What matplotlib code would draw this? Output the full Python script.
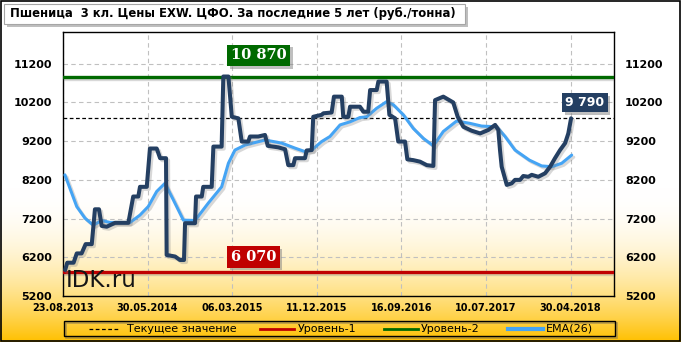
import numpy as np
import matplotlib
matplotlib.use('Agg')
import matplotlib.pyplot as plt
import matplotlib.patheffects as pe
from matplotlib.patches import Rectangle
from matplotlib.lines import Line2D

# x = weeks since 23.08.2013
price_week = [1, 2, 5, 6.5, 8.8, 10.7, 13.6, 15.1, 17, 18.3, 20.7, 24.6, 30.9, 33.2, 35.6,
              36.4, 39.6, 41.1, 44.3, 45.9, 48.7, 49, 53, 55.3, 57.2, 57.7, 62.4, 62.9, 65.6,
              66.3, 70.3, 71.1, 75, 75.8, 78.2, 79.8, 82.9, 84.5, 87.6, 88.4, 92.3, 95.5, 96.8,
              101.8, 105, 106.5, 108.9, 109.7, 114.4, 115.2, 117.6, 118.3, 122.3, 123.1, 127,
              128.1, 131.8, 132.5, 134.9, 135.7, 140.4, 142, 144.3, 145.2, 148.3, 149.1, 153,
              154.3, 157, 158.5, 161.7, 162.8, 165.6, 168.8, 172, 175.1, 175.9, 179.8, 184.5,
              186.6, 189.3, 193.2, 197.2, 201.1, 204.3, 205.8, 206.6, 207.4, 209.8, 212.1,
              213.7, 216.1, 217.6, 220, 221.6, 224.7, 227.9, 230.3, 232.6, 235, 237.4, 238.9,
              240.2]
price = [5870, 6060, 6060, 6300, 6300, 6540, 6540, 7440, 7440, 7010, 6990, 7090, 7090, 7770, 7770,
         8020, 8020, 9010, 9010, 8760, 8760, 6260, 6220, 6130, 6130, 7080, 7080, 7770, 7770,
         8020, 8020, 9060, 9060, 10870, 10870, 9830, 9790, 9190, 9190, 9320, 9320, 9360, 9080,
         9040, 8990, 8580, 8580, 8760, 8760, 8960, 8970, 9830, 9880, 9920, 9940,
         10350, 10350, 9830, 9830, 10090, 10090, 9960, 9960, 10520, 10520, 10740, 10740,
         9880, 9790, 9190, 9190, 8730, 8710, 8670, 8580, 8560, 10260, 10350, 10200,
         9830, 9570, 9470, 9400, 9490, 9620, 9490, 8970, 8540, 8070, 8110,
         8200, 8200, 8300, 8280, 8330, 8280, 8370, 8540, 8760, 8970, 9150, 9400,
         9790]

ema_week = [0.9, 6.5, 10.4, 14.3, 18.3, 22.2, 31.7, 36.4, 40.3, 44.3, 48.2, 52.2, 56.9, 62.4,
            68.7, 75, 78.2, 81.3, 86.1, 95.5, 103.4, 109.7, 114.4, 117.6, 122.3, 126.2, 131,
            135.7, 140.4, 143.6, 148.3, 153, 156.2, 160.9, 165.6, 170.4, 175.1, 179.8, 186.1,
            192.4, 197.9, 205.1, 209, 213.7, 220.5, 226.3, 231.1, 235.8, 240.5]
ema = [8330, 7510, 7210, 7030, 7150, 7100, 7100, 7290, 7510, 7900, 8110, 7680, 7160, 7150,
       7600, 8020, 8630, 8970, 9100, 9230, 9150, 9020, 8930, 8970, 9190, 9320, 9620,
       9700, 9810, 9830, 10050, 10220, 10140, 9880, 9530, 9270, 9080, 9450, 9720,
       9660, 9590, 9570, 9320, 8970, 8710, 8560, 8540, 8630, 8840]

tick_weeks = [0, 40, 80, 120, 160, 200, 240]
tick_labels = ['23.08.2013', '30.05.2014', '06.03.2015', '11.12.2015', '16.09.2016',
               '10.07.2017', '30.04.2018']
yticks = [5200, 6200, 7200, 8200, 9200, 10200, 11200]

current = 9790
level1 = 5820      # where the red line is drawn
level1_text = '6 070'
level2 = 10870

navy = '#243f62'
ema_col = '#45a4f4'
green = '#006a00'
red = '#c00000'

fig = plt.figure(figsize=(6.81, 3.42), dpi=100)

# background gradient white -> gold at the bottom
bg = fig.add_axes([0, 0, 1, 1], zorder=-10)
bg.axis('off')
t = np.linspace(1, 0, 342)
f = np.clip(1 - t / 0.45, 0, 1) ** 2
gold = np.array([255, 192, 0]) / 255
img = (1 - f)[:, None] * np.ones(3) + f[:, None] * gold
img = np.repeat(img[:, None, :], 10, axis=1)
bg.imshow(img, aspect='auto', extent=[0, 1, 0, 1])
bg.set_xlim(0, 1)
bg.set_ylim(0, 1)
bg.add_patch(Rectangle((0.001, 0.002), 0.997, 0.995, fill=False, ec='black', lw=1.2))

ax = fig.add_axes([63 / 681, 1 - 296 / 342, 551 / 681, 264 / 342])
ax.set_facecolor('none')

shadow = [pe.SimpleLineShadow(offset=(1.5, -1.5), shadow_color='#808080', alpha=0.3), pe.Normal()]

ax.axhline(level2, color=green, lw=2.4, path_effects=shadow, zorder=3)
ax.axhline(level1, color=red, lw=2.4, path_effects=shadow, zorder=3)
ax.axhline(current, color='black', lw=0.9, ls=(0, (3, 2)), zorder=3)

ax.plot(ema_week, ema, color=ema_col, lw=2.2, solid_joinstyle='round', solid_capstyle='round',
        path_effects=shadow, zorder=4)
ax.plot(price_week, price, color=navy, lw=2.9, solid_joinstyle='round', solid_capstyle='round',
        path_effects=shadow, zorder=5)

ax.set_xlim(0, 260.5)
ax.set_ylim(5200, 12020)
ax.set_xticks(tick_weeks)
ax.set_xticklabels(tick_labels)
ax.set_yticks(yticks)
ax.grid(True, color='#c0c0c0', ls=(0, (4, 3)), lw=0.8)
ax.set_axisbelow(True)
ax.tick_params(axis='y', length=0, pad=8, labelsize=8, labelright=True)
ax.tick_params(axis='x', length=0, pad=5, labelsize=7)
for lab in ax.get_xticklabels() + ax.get_yticklabels():
    lab.set_fontweight('bold')
for tk in ax.yaxis.get_major_ticks():
    tk.label2.set_fontweight('bold')
for s in ax.spines.values():
    s.set_color('black')
    s.set_linewidth(1)

ax.text(1.2, 5430, 'IDK.ru', fontsize=16.5, color='#151515', zorder=6)


def tag(x, y, text, color, family, size):
    tx = ax.text(x, y, text, color='white', fontsize=size, fontweight='bold', family=family,
                 ha='center', va='center', zorder=7,
                 bbox=dict(boxstyle='square,pad=0.25', fc=color, ec='none'))
    tx.get_bbox_patch().set_path_effects([
        pe.SimplePatchShadow(offset=(2, -2), shadow_rgbFace='#808080', alpha=0.5), pe.Normal()])


tag(92.5, 11420, '10 870', green, 'DejaVu Serif', 10.5)
tag(90, 6210, level1_text, red, 'DejaVu Serif', 10.5)
tag(246.8, 10200, '9 790', navy, 'DejaVu Sans', 9)

# title box
tb = Rectangle((4 / 681, 1 - 24 / 342), 461 / 681, 20 / 342, transform=fig.transFigure,
               fc='white', ec='#a6a6a6', lw=0.8, zorder=2)
tb.set_path_effects([pe.SimplePatchShadow(offset=(2, -2), shadow_rgbFace='#808080', alpha=0.5),
                     pe.Normal()])
fig.patches.append(tb)
fig.text(10 / 681, 1 - 14 / 342, 'Пшеница  3 кл. Цены EXW. ЦФО. За последние 5 лет (руб./тонна)',
         fontsize=8.4, fontweight='bold', va='center', ha='left', zorder=3)

# legend (outline with a thin grey shadow)
fig.patches.append(Rectangle((66 / 681, 1 - 338 / 342), 551 / 681, 15.5 / 342,
                             transform=fig.transFigure, fc='none', ec='#8a7a50', lw=1.2,
                             alpha=0.6, zorder=1))
fig.patches.append(Rectangle((64 / 681, 1 - 336 / 342), 551 / 681, 15.5 / 342,
                             transform=fig.transFigure, fc='none', ec='black', lw=1, zorder=2))
ly = 1 - 328.5 / 342
entries = [
    (89, 119, 127, 'Текущее значение', dict(color='black', lw=0.9, ls=(0, (3, 2)))),
    (260, 294, 298, 'Уровень-1', dict(color=red, lw=2)),
    (384, 418, 421, 'Уровень-2', dict(color=green, lw=2)),
    (508, 543, 546, 'EMA(26)', dict(color=ema_col, lw=3)),
]
for x0, x1, xt, label, style in entries:
    fig.add_artist(Line2D([x0 / 681, x1 / 681], [ly, ly], transform=fig.transFigure, **style))
    fig.text(xt / 681, ly, label, fontsize=8, va='center', ha='left')

fig.savefig('out.png', dpi=100)
